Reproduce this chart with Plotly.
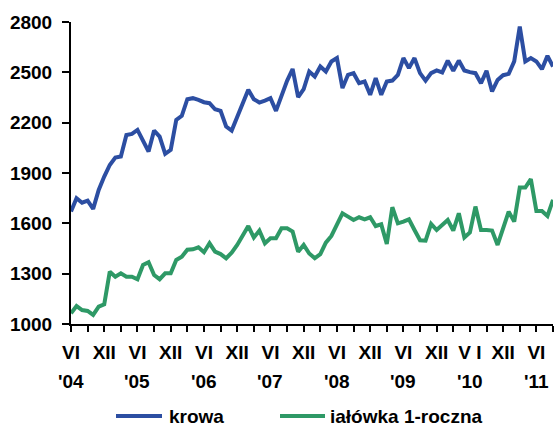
import plotly.graph_objects as go

# month index: 0 = June 2004 ... 87 = September 2011
months = list(range(88))

krowa = [1670, 1750, 1723, 1735, 1686, 1799, 1879, 1948, 1992, 1998,
         2127, 2133, 2157, 2087, 2028, 2153, 2117, 2014, 2038, 2217,
         2241, 2340, 2346, 2336, 2322, 2316, 2280, 2270, 2177, 2153,
         2236, 2314, 2396, 2340, 2320, 2332, 2346, 2270, 2360, 2449,
         2520, 2352, 2400, 2505, 2475, 2535, 2505, 2565, 2585, 2406,
         2485, 2495, 2435, 2445, 2366, 2465, 2366, 2445, 2451, 2485,
         2585, 2525, 2585, 2495, 2450, 2495, 2511, 2499, 2570, 2509,
         2570, 2511, 2501, 2495, 2435, 2509, 2386, 2455, 2483, 2491,
         2565, 2773, 2565, 2585, 2565, 2519, 2598, 2535]

jalowka = [1064, 1107, 1083, 1078, 1054, 1103, 1117, 1312, 1282, 1302,
           1282, 1282, 1267, 1352, 1368, 1292, 1267, 1302, 1302, 1382,
           1401, 1443, 1445, 1457, 1428, 1481, 1431, 1417, 1392, 1425,
           1471, 1525, 1584, 1515, 1557, 1481, 1511, 1511, 1571, 1571,
           1551, 1431, 1471, 1420, 1392, 1416, 1485, 1525, 1590, 1660,
           1640, 1620, 1636, 1624, 1636, 1584, 1594, 1477, 1696, 1600,
           1610, 1624, 1560, 1499, 1497, 1597, 1560, 1590, 1620, 1557,
           1660, 1515, 1545, 1700, 1560, 1560, 1557, 1471, 1565, 1670,
           1610, 1813, 1813, 1863, 1674, 1674, 1644, 1740]

tick_vals = [0, 6, 12, 18, 24, 30, 36, 42, 48, 54, 60, 66, 72, 78, 84]
tick_text = ["VI", "XII", "VI", "XII", "VI", "XII", "VI", "XII",
             "VI", "XII", "VI", "XII", "V I", "XII", "VI"]
year_pos = [0, 12, 24, 36, 48, 60, 72, 84]
year_text = ["'04", "'05", "'06", "'07", "'08", "'09", "'10", "'11"]
y_ticks = [1000, 1300, 1600, 1900, 2200, 2500, 2800]

series_names = ["krowa", "iałówka 1-roczna"]
colors = ["#2C4EA2", "#2E9966"]

FONT = "Liberation Sans, Arial, sans-serif"
FS = 19

fig = go.Figure()
fig.add_trace(go.Scatter(x=months, y=krowa, mode="lines", name=series_names[0],
                         line=dict(color=colors[0], width=4)))
fig.add_trace(go.Scatter(x=months, y=jalowka, mode="lines", name=series_names[1],
                         line=dict(color=colors[1], width=4)))

W, H = 557, 427
L, R, T, B = 71, 4, 22, 103
pw, ph = W - L - R, H - T - B

def px_x(x):
    return (x - L) / pw

def px_y(y):
    return (H - B - y) / ph

annotations = []
for p, t in zip(year_pos, year_text):
    annotations.append(dict(x=p, xref="x", y=px_y(381), yref="paper", text=t,
                            showarrow=False, xanchor="center", yanchor="middle",
                            font=dict(family=FONT, size=FS, color="black", weight="bold")))

# legend
shapes = []
leg_y = px_y(416)
leg_items = [(116, 162, 167), (280, 325, 328)]
for (x0, x1, tx), name, c in zip(leg_items, series_names, colors):
    shapes.append(dict(type="line", xref="paper", yref="paper",
                       x0=px_x(x0), x1=px_x(x1), y0=leg_y, y1=leg_y,
                       line=dict(color=c, width=4)))
    annotations.append(dict(x=px_x(tx), xref="paper", y=leg_y, yref="paper", text=name,
                            showarrow=False, xanchor="left", yanchor="middle",
                            font=dict(family=FONT, size=FS, color="black", weight="bold")))

fig.update_layout(
    width=W, height=H,
    margin=dict(l=L, r=R, t=T, b=B, pad=0),
    paper_bgcolor="white", plot_bgcolor="white",
    showlegend=False,
    font=dict(family=FONT, size=FS, color="black"),
    annotations=annotations,
    shapes=shapes,
    xaxis=dict(range=[0, 87], tickmode="array", tickvals=tick_vals, ticktext=tick_text,
               showgrid=False, zeroline=False, showline=True, linecolor="black", linewidth=2,
               ticks="outside", ticklen=6, tickwidth=2, tickcolor="black",
               ticklabelstandoff=4,
               tickfont=dict(family=FONT, size=FS, color="black", weight="bold"),
               minor=dict(tickmode="linear", tick0=0, dtick=3, ticks="outside",
                          ticklen=6, tickwidth=2, tickcolor="black", showgrid=False)),
    yaxis=dict(range=[1000, 2800], tickmode="array", tickvals=y_ticks,
               showgrid=False, zeroline=False, showline=True, linecolor="black", linewidth=2,
               ticks="outside", ticklen=7, tickwidth=2, tickcolor="black",
               ticklabelstandoff=6,
               tickfont=dict(family=FONT, size=FS, color="black", weight="bold")),
)

fig.write_html("out.html", config={"displayModeBar": False},
               post_script="document.body.style.margin='0';document.body.style.overflow='hidden';")
